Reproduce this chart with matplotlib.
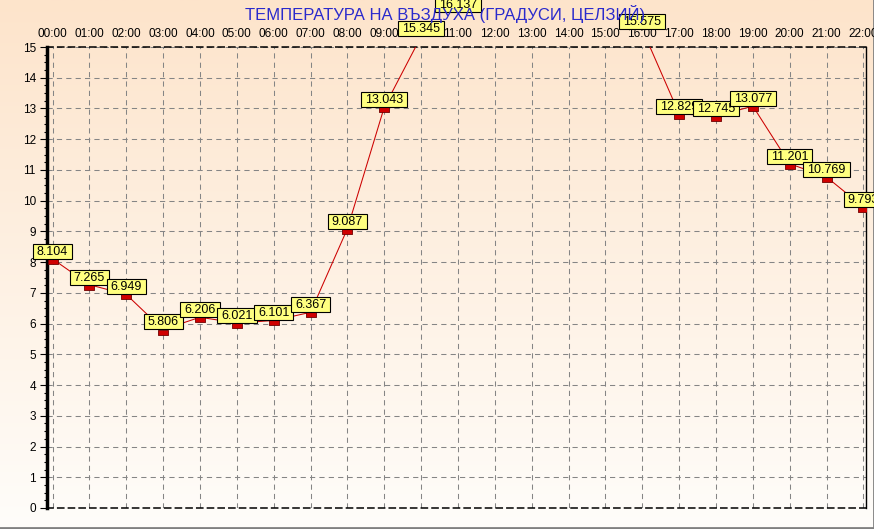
import numpy as np
import matplotlib
matplotlib.use("Agg")
import matplotlib.pyplot as plt
from matplotlib.path import Path
from matplotlib.colors import LinearSegmentedColormap

hours = list(range(23))
tick_labels = [f"{h:02d}:00" for h in hours]
temps = [8.104, 7.265, 6.949, 5.806, 6.206, 6.021, 6.101, 6.367, 9.087, 13.043,
         15.345, 16.137, np.nan, np.nan, np.nan, np.nan, 15.575, 12.829, 12.745,
         13.077, 11.201, 10.769, 9.793]
title = "ТЕМПЕРАТУРА НА ВЪЗДУХА (ГРАДУСИ, ЦЕЛЗИЙ)"

plt.rcParams['font.family'] = ['Liberation Sans', 'DejaVu Sans']

W, H = 874, 529
fig = plt.figure(figsize=(W / 100, H / 100), dpi=100)

# background gradient
bg = fig.add_axes([0, 0, 1, 1], zorder=-10)
cmap = LinearSegmentedColormap.from_list("bg", ["#FDE4CB", "#FFFDFA"])
grad = np.linspace(0, 1, 256).reshape(-1, 1)
bg.imshow(grad, aspect='auto', cmap=cmap, extent=[0, 1, 0, 1], origin='upper')
bg.plot([0, 1, 1], [0.002, 0.002, 1], color='#808080', lw=2, transform=bg.transAxes, clip_on=False)
bg.set_xlim(0, 1); bg.set_ylim(0, 1)
bg.axis('off')

left, right, top, bottom = 47, 866, 47, 508
ax = fig.add_axes([left / W, 1 - bottom / H, (right - left) / W, (bottom - top) / H])
ax.set_facecolor('none')
ax.set_xlim(-0.15, 22.07)
ax.set_ylim(0, 15)

ax.set_xticks(hours)
ax.set_xticklabels(tick_labels)
ax.xaxis.tick_top()
ax.tick_params(axis='x', length=0, labelsize=8.5, pad=5)
ax.set_yticks(range(16))
ax.set_yticks(np.arange(0, 15.01, 0.25), minor=True)
ax.tick_params(axis='y', which='major', length=5, width=0.8, labelsize=8.5, pad=3)
ax.tick_params(axis='y', which='minor', length=2, width=0.8)

ax.grid(True, color='#858585', linestyle=(0, (5, 4)), linewidth=0.75)
ax.set_axisbelow(True)

for s in ['top', 'bottom']:
    ax.spines[s].set_linestyle((0, (4, 3)))
    ax.spines[s].set_color('black')
    ax.spines[s].set_linewidth(1.1)
ax.spines['left'].set_linewidth(2.5)
ax.spines['right'].set_linewidth(1)

# marker whose top edge sits on the data value
rect = Path([(-1, -1.1), (1, -1.1), (1, 0), (-1, 0), (-1, -1.1)],
            [Path.MOVETO, Path.LINETO, Path.LINETO, Path.LINETO, Path.CLOSEPOLY])
ax.plot(hours, temps, color='#CC0000', lw=0.75, marker=rect, markersize=7.5,
        markerfacecolor='#D00000', markeredgecolor='#700000', markeredgewidth=0.6,
        zorder=3)


def label_box(x0, y0, width, height, mutation_size):
    # units are pixels
    hp, vb, vt = 4.0, 1.0, 2.0
    x0 -= hp; width += 2 * hp
    y0 -= vb; height += vb + vt
    return Path([(x0, y0), (x0 + width, y0), (x0 + width, y0 + height),
                 (x0, y0 + height), (x0, y0)],
                [Path.MOVETO, Path.LINETO, Path.LINETO, Path.LINETO, Path.CLOSEPOLY])


for h, v in zip(hours, temps):
    if np.isnan(v):
        continue
    ax.annotate(f"{v:.3f}", (h, v),
                xytext=(0, 0.8), textcoords='offset points', ha='center', va='bottom',
                fontsize=9, annotation_clip=False, zorder=5,
                bbox=dict(boxstyle=label_box, fc='#FFFF80', ec='black', lw=0.8))

fig.text(445 / W, 1 - 14 / H, title, ha='center', va='center', color='#2A2ACC',
         fontsize=12, zorder=1)

fig.savefig('out.png', dpi=100)
